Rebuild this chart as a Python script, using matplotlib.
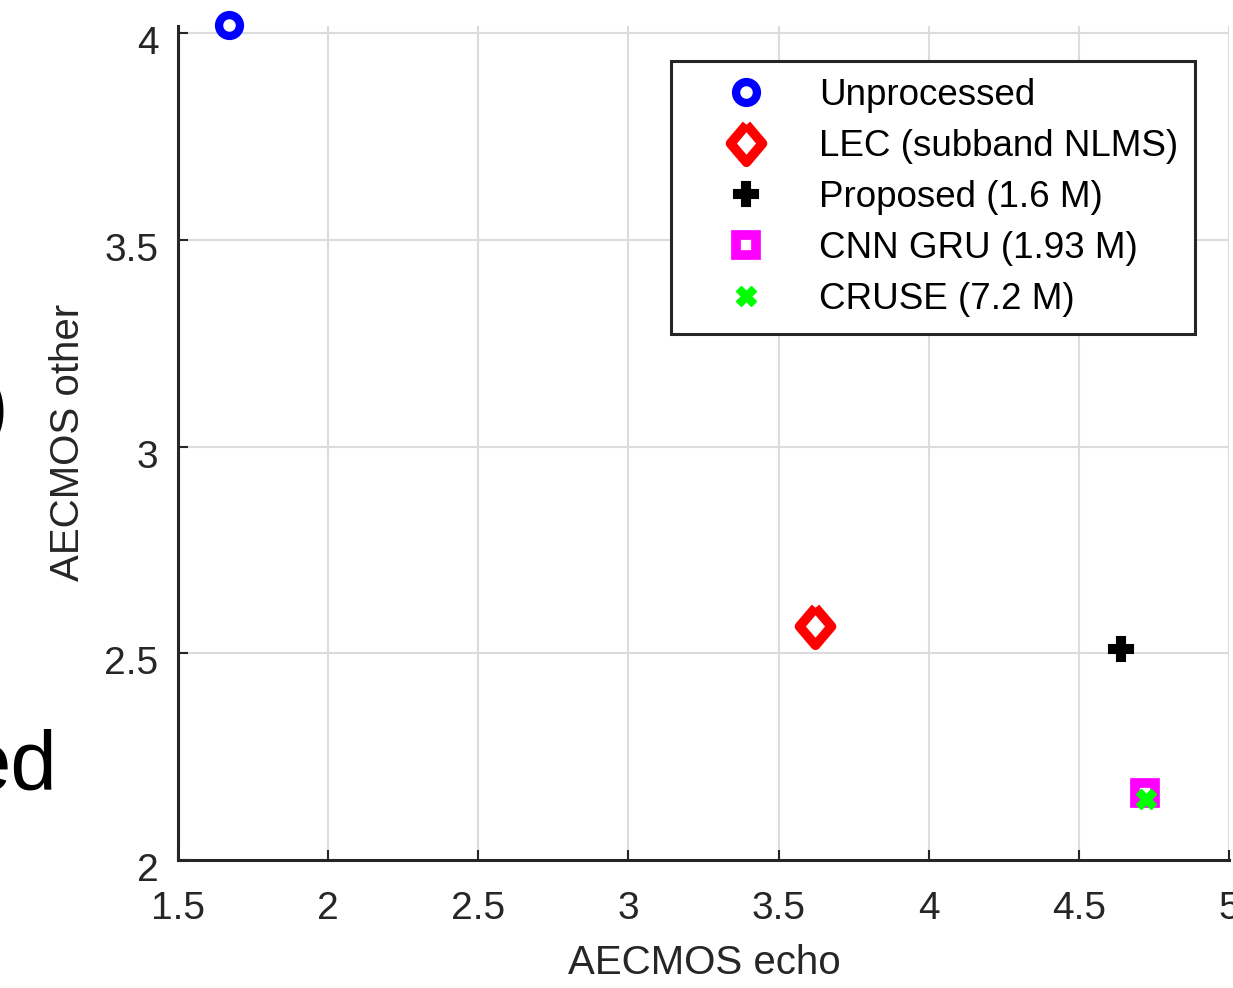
import matplotlib
matplotlib.use("Agg")
import matplotlib.pyplot as plt
from matplotlib.transforms import ScaledTranslation

# ---- data ----
methods = ["Unprocessed", "LEC (subband NLMS)", "Proposed (1.6 M)",
           "CNN GRU (1.93 M)", "CRUSE (7.2 M)"]
aecmos_echo = [1.67, 3.62, 4.64, 4.72, 4.725]
aecmos_other = [4.02, 2.565, 2.51, 2.163, 2.147]
x_ticks = [1.5, 2, 2.5, 3, 3.5, 4, 4.5, 5]
x_ticklabels = ["1.5", "2", "2.5", "3", "3.5", "4", "4.5", "5"]
y_ticks = [2, 2.5, 3, 3.5, 4]
y_ticklabels = ["2", "2.5", "3", "3.5", "4"]

# ---- styles ----
diamond = [(0, 1.0), (0.85, 0), (0, -1.0), (-0.85, 0), (0, 1.0)]
styles = [
    dict(marker="o", color="#0000ff", mfc="white", mec="#0000ff", ms=15, mew=6),
    dict(marker=diamond, color="#ff0000", mfc="white", mec="#ff0000", ms=27, mew=7),
    dict(marker="P", color="black", mfc="black", mec="black", ms=17, mew=1.5),
    dict(marker="s", color="#ff00ff", mfc="white", mec="#ff00ff", ms=14, mew=7),
    dict(marker="X", color="#00ff00", mfc="#00ff00", mec="#00ff00", ms=15, mew=1),
]

plt.rcParams["font.family"] = ["Liberation Sans", "DejaVu Sans"]

W, H = 1233, 988
fig = plt.figure(figsize=(W / 100, H / 100), dpi=100)
ax = fig.add_axes([178 / W, 1 - 860 / H, (1229 - 178) / W, (860 - 26) / H])

for name, xv, yv, st in zip(methods, aecmos_echo, aecmos_other, styles):
    ax.plot([xv], [yv], linestyle="none", label=name, clip_on=False,
            zorder=5, **st)

ax.set_xlim(1.5, 5.0)
ax.set_ylim(2.0, 4.017)
ax.set_xticks(x_ticks)
ax.set_xticklabels(x_ticklabels)
ax.set_yticks(y_ticks)
ax.set_yticklabels(y_ticklabels)

ax.grid(True, color="#dcdcdc", linewidth=1.5, zorder=0)
ax.set_axisbelow(True)

for s in ["top", "right"]:
    ax.spines[s].set_visible(False)
for s in ["left", "bottom"]:
    ax.spines[s].set_color("#262626")
    ax.spines[s].set_linewidth(2.2)

ax.tick_params(axis="both", direction="in", length=7, width=1.5,
               colors="#262626", labelsize=28)
ax.tick_params(axis="x", pad=22)
ax.tick_params(axis="y", pad=14)

# MATLAB-like slight downward offset of y tick labels
for lab in ax.get_yticklabels():
    lab.set_transform(lab.get_transform() +
                      ScaledTranslation(0, -7 / 100, fig.dpi_scale_trans))

ax.set_xlabel("AECMOS echo", fontsize=29, color="#262626", va="center")
ax.xaxis.set_label_coords(0.5005, -0.1235)
ax.set_ylabel("AECMOS other", fontsize=29, color="#262626", va="center")
ax.yaxis.set_label_coords(-0.105, 0.501)

leg = ax.legend(loc="upper right", bbox_to_anchor=((1195 - 178) / 1051, (860 - 61) / 834),
                fontsize=26.5, frameon=True, fancybox=False, shadow=False,
                framealpha=1, edgecolor="#262626", borderpad=0.45,
                handlelength=3.17, handletextpad=0.4, labelspacing=0.44,
                borderaxespad=0, numpoints=1)
leg.get_frame().set_linewidth(2.2)
leg.set_zorder(10)

# remnants of neighbouring text cut by the crop
fig.text(7.5 / W, 1 - 411 / H, ")", fontsize=57, ha="right", va="center", color="black")
fig.text(57 / W, 1 - 790 / H, "ed", fontsize=60, ha="right", va="baseline", color="black")

fig.savefig("out.png", dpi=100)
